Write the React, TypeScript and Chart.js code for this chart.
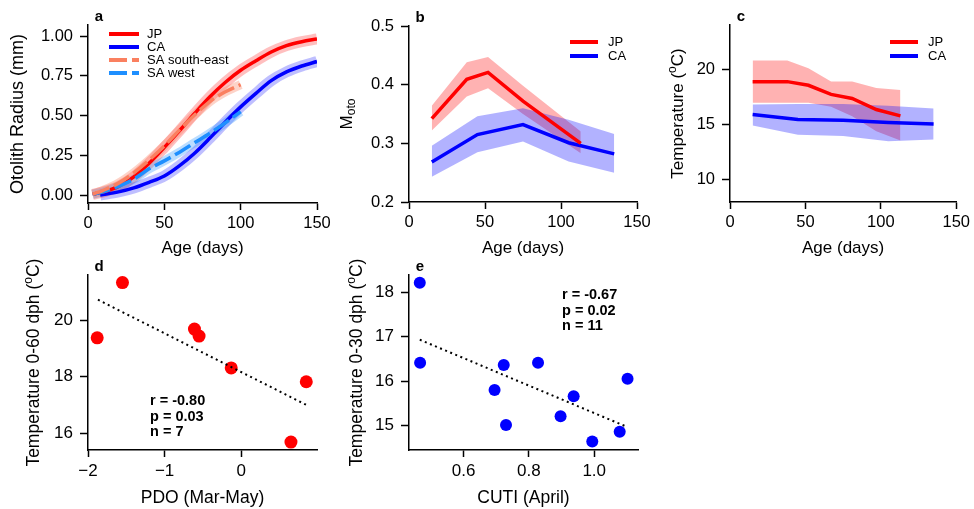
import React, { useEffect, useRef } from 'react';
import { Chart, registerables } from 'chart.js';
Chart.register(...registerables);

const FONT = '"Liberation Sans", Arial, Helvetica, sans-serif';

// ---------- Panel a: otolith radius vs age ----------
const ageJPa = [3, 10, 20, 30, 40, 50, 60, 70, 80, 90, 100, 110, 120, 130, 140, 150];
const radiusJP = [0.005, 0.02, 0.055, 0.115, 0.2, 0.3, 0.405, 0.515, 0.62, 0.71, 0.785, 0.845, 0.9, 0.94, 0.965, 0.982];
const ageCAa = [8, 20, 30, 40, 50, 60, 70, 80, 90, 100, 110, 120, 130, 140, 150];
const radiusCA = [0.0, 0.02, 0.045, 0.08, 0.12, 0.185, 0.265, 0.36, 0.46, 0.555, 0.64, 0.72, 0.775, 0.812, 0.84];
const ageSA = [3, 10, 20, 30, 40, 50, 60, 70, 80, 90, 100];
const radiusSAse = [0.005, 0.03, 0.075, 0.14, 0.22, 0.31, 0.41, 0.505, 0.59, 0.65, 0.695];
const radiusSAw = [0.005, 0.02, 0.055, 0.1, 0.165, 0.215, 0.27, 0.33, 0.39, 0.455, 0.525];
const aXTicks = [0, 50, 100, 150];
const aYTicks = [0, 0.25, 0.5, 0.75, 1.0];

// ---------- Panel b: M_oto ----------
const ageJPb = [15, 38, 52, 75, 113];
const motoJP = [0.342, 0.409, 0.421, 0.372, 0.3];
const motoJPlo = [0.322, 0.38, 0.394, 0.35, 0.283];
const motoJPhi = [0.364, 0.438, 0.447, 0.398, 0.32];
const ageCAb = [15, 45, 75, 105, 135];
const motoCA = [0.268, 0.315, 0.332, 0.301, 0.282];
const motoCAlo = [0.243, 0.285, 0.303, 0.269, 0.25];
const motoCAhi = [0.296, 0.346, 0.36, 0.34, 0.316];
const bXTicks = [0, 50, 100, 150];
const bYTicks = [0.2, 0.3, 0.4, 0.5];

// ---------- Panel c: temperature vs age ----------
const ageJPc = [15, 38, 52, 67, 81, 97, 113];
const tempJP = [18.88, 18.88, 18.55, 17.73, 17.36, 16.36, 15.79];
const tempJPlo = [16.97, 16.97, 16.97, 16.6, 15.76, 14.4, 13.55];
const tempJPhi = [20.79, 20.79, 20.1, 18.9, 18.9, 18.3, 18.12];
const ageCAc = [15, 45, 75, 105, 135];
const tempCA = [15.91, 15.45, 15.39, 15.18, 15.06];
const tempCAlo = [14.91, 14.09, 13.97, 13.5, 13.64];
const tempCAhi = [16.82, 16.85, 16.85, 16.7, 16.45];
const cXTicks = [0, 50, 100, 150];
const cYTicks = [10, 15, 20];

// ---------- Panel d: PDO ----------
const pdo = [-1.88, -1.55, -0.61, -0.55, -0.13, 0.85, 0.65];
const temp60 = [19.38, 21.34, 19.69, 19.44, 18.31, 17.82, 15.68];
const pdoFitX = [-1.87, 0.85];
const pdoFitY = [20.73, 17.0];
const dXTicks = [-2, -1, 0];
const dYTicks = [16, 18, 20];
const statsD = ['r = -0.80', 'p = 0.03', 'n = 7'];

// ---------- Panel e: CUTI ----------
const cuti = [0.466, 0.467, 0.723, 0.695, 0.73, 0.828, 0.937, 0.897, 0.994, 1.078, 1.102];
const temp30 = [18.21, 16.41, 16.36, 15.8, 15.01, 16.41, 15.66, 15.21, 14.64, 14.86, 16.05];
const cutiFitX = [0.466, 1.094];
const cutiFitY = [16.93, 14.99];
const eXTicks = [0.6, 0.8, 1.0];
const eYTicks = [15, 16, 17, 18];
const statsE = ['r = -0.67', 'p = 0.02', 'n = 11'];

const zip = (xs: number[], ys: number[]) => xs.map((x, i) => ({ x, y: ys[i] }));

type Box = { x: number; y: number; w: number; h: number };
type Area = { l: number; t: number; r: number; b: number };

const decor = {
  id: 'decor',
  afterDraw(chart: any, _a: any, o: any) {
    const { ctx, chartArea: ca } = chart;
    if (!o || !o.on) return;
    ctx.save();
    ctx.fillStyle = '#000';
    // panel letter
    ctx.font = `bold 15px ${FONT}`;
    ctx.textAlign = 'center';
    ctx.textBaseline = 'middle';
    ctx.fillText(o.letter, ca.left + 11, ca.top - 8);
    // x title
    ctx.font = `${o.titleSize}px ${FONT}`;
    ctx.fillText(o.xTitle, (ca.left + ca.right) / 2, ca.bottom + o.xTitleDy);
    // y title (rich, rotated)
    ctx.save();
    ctx.translate(ca.left - o.yTitleDx, (ca.top + ca.bottom) / 2);
    ctx.rotate(-Math.PI / 2);
    const size = o.yTitleSize || o.titleSize;
    const segs = o.yTitle as { t: string; sup?: boolean; sub?: boolean }[];
    const fontOf = (s: any) => `${s.sup || s.sub ? Math.round(size * 0.68) : size}px ${FONT}`;
    let total = 0;
    const widths = segs.map((s) => {
      ctx.font = fontOf(s);
      const w = ctx.measureText(s.t).width;
      total += w;
      return w;
    });
    let xx = -total / 2;
    ctx.textAlign = 'left';
    segs.forEach((s, i) => {
      ctx.font = fontOf(s);
      ctx.fillText(s.t, xx, s.sup ? -size * 0.32 : s.sub ? size * 0.3 : 0);
      xx += widths[i];
    });
    ctx.restore();
    // legend
    if (o.legend) {
      const L = o.legend;
      L.items.forEach((it: any, i: number) => {
        const y = ca.top + L.dy + i * L.row;
        const x0 = ca.left + L.dx;
        ctx.save();
        ctx.strokeStyle = it.color;
        ctx.lineWidth = 4;
        ctx.lineCap = 'butt';
        ctx.setLineDash(it.dash || []);
        ctx.beginPath();
        ctx.moveTo(x0, y);
        ctx.lineTo(x0 + L.len, y);
        ctx.stroke();
        ctx.restore();
        ctx.font = `${L.size}px ${FONT}`;
        ctx.textAlign = 'left';
        ctx.textBaseline = 'middle';
        ctx.fillStyle = '#000';
        ctx.fillText(it.label, x0 + L.len + L.gap, y);
      });
    }
    // stats
    if (o.stats) {
      const S = o.stats;
      ctx.font = `bold ${S.size}px ${FONT}`;
      ctx.textAlign = 'left';
      ctx.textBaseline = 'middle';
      S.lines.forEach((t: string, i: number) => {
        ctx.fillText(t, ca.left + S.dx, ca.top + S.dy + i * S.row);
      });
    }
    ctx.restore();
  },
};

function scales(box: Box, area: Area, x: any, y: any, tickSize: number) {
  const mk = (tl: number, pad: number, s: any) => ({
    type: 'linear',
    min: s.min,
    max: s.max,
    grid: { display: true, drawOnChartArea: false, drawTicks: true, tickLength: tl, tickWidth: 1.5, tickColor: '#000' },
    border: { display: true, color: '#000', width: 1.5 },
    ticks: {
      color: '#000',
      font: { family: FONT, size: tickSize },
      padding: pad,
      autoSkip: false,
      maxRotation: 0,
      callback: (v: number) => s.fmt(v),
    },
    afterBuildTicks: (sc: any) => {
      sc.ticks = s.ticks.map((v: number) => ({ value: v }));
    },
  });
  return {
    x: { ...mk(7, 4, x), afterFit: (sc: any) => { sc.height = box.y + box.h - area.b; } },
    y: { ...mk(8, 7, y), afterFit: (sc: any) => { sc.width = area.l - box.x; } },
  };
}

function baseOptions(box: Box, area: Area, sc: any, decorOpts: any) {
  return {
    responsive: false,
    animation: false,
    devicePixelRatio: 1,
    layout: { padding: { left: 0, top: area.t - box.y, right: box.x + box.w - area.r, bottom: 0 } },
    scales: sc,
    plugins: { legend: { display: false }, tooltip: { enabled: false }, decor: { on: true, ...decorOpts } },
  };
}

const fmt2 = (v: number) => v.toFixed(2);
const fmt1 = (v: number) => v.toFixed(1);
const fmt0 = (v: number) => (v < 0 ? '\u2212' + Math.abs(v) : String(v));

const boxA: Box = { x: 0, y: 0, w: 345, h: 258 };
const areaA: Area = { l: 88, t: 25, r: 317, b: 203 };
const boxB: Box = { x: 320, y: 0, w: 345, h: 258 };
const areaB: Area = { l: 409, t: 26, r: 637, b: 202 };
const boxC: Box = { x: 650, y: 0, w: 324, h: 258 };
const areaC: Area = { l: 730, t: 25, r: 959, b: 202 };
const boxD: Box = { x: 0, y: 258, w: 345, h: 251 };
const areaD: Area = { l: 88, t: 273, r: 317, b: 450 };
const boxE: Box = { x: 320, y: 258, w: 345, h: 251 };
const areaE: Area = { l: 409, t: 273, r: 638, b: 450 };

const RED = '#FF0000';
const BLUE = '#0000FF';
const SALMON = '#FA8060';
const SKY = '#1E8FFF';
const RED_BAND = 'rgba(255,0,0,0.3)';
const BLUE_BAND = 'rgba(0,0,255,0.3)';

const line = (data: any, color: string, width: number, order: number, extra: any = {}) => ({
  data,
  borderColor: color,
  backgroundColor: color,
  borderWidth: width,
  pointRadius: 0,
  fill: false,
  order,
  borderCapStyle: 'butt',
  ...extra,
});

function configA() {
  const sc = scales(boxA, areaA, { min: 0, max: 150, ticks: aXTicks, fmt: fmt0 }, { min: -0.05, max: 1.07, ticks: aYTicks, fmt: fmt2 }, 16.5);
  const smooth = { cubicInterpolationMode: 'monotone' };
  return {
    type: 'line',
    data: {
      datasets: [
        line(zip(ageJPa, radiusJP), 'rgba(255,0,0,0.25)', 11, 10, smooth),
        line(zip(ageCAa, radiusCA), 'rgba(0,0,255,0.25)', 11, 10, smooth),
        line(zip(ageSA, radiusSAse), 'rgba(250,128,96,0.35)', 9, 9, smooth),
        line(zip(ageSA, radiusSAw), 'rgba(30,143,255,0.3)', 9, 9, smooth),
        line(zip(ageJPa, radiusJP), RED, 3.5, 5, smooth),
        line(zip(ageCAa, radiusCA), BLUE, 3.5, 5, smooth),
        line(zip(ageSA, radiusSAse), SALMON, 3.5, 1, { ...smooth, borderDash: [18, 5] }),
        line(zip(ageSA, radiusSAw), SKY, 3.5, 1, { ...smooth, borderDash: [18, 5] }),
      ],
    },
    options: baseOptions(boxA, areaA, sc, {
      letter: 'a',
      titleSize: 17,
      yTitleSize: 18,
      xTitle: 'Age (days)',
      xTitleDy: 45,
      yTitle: [{ t: 'Otolith Radius (mm)' }],
      yTitleDx: 70,
      legend: {
        dx: 21, dy: 9, row: 13, len: 30, gap: 8, size: 13,
        items: [
          { label: 'JP', color: RED },
          { label: 'CA', color: BLUE },
          { label: 'SA south-east', color: SALMON, dash: [18, 5] },
          { label: 'SA west', color: SKY, dash: [18, 5] },
        ],
      },
    }),
  };
}

function bandSets(xs: number[], lo: number[], hi: number[], color: string, order: number) {
  return [
    { data: zip(xs, lo), borderWidth: 0, pointRadius: 0, fill: false, order, borderColor: 'rgba(0,0,0,0)' },
    { data: zip(xs, hi), borderWidth: 0, pointRadius: 0, fill: '-1', backgroundColor: color, order, borderColor: 'rgba(0,0,0,0)' },
  ];
}

function configB() {
  const sc = scales(boxB, areaB, { min: 0, max: 150, ticks: bXTicks, fmt: fmt0 }, { min: 0.2, max: 0.5, ticks: bYTicks, fmt: fmt1 }, 16.5);
  return {
    type: 'line',
    data: {
      datasets: [
        ...bandSets(ageJPb, motoJPlo, motoJPhi, RED_BAND, 10),
        ...bandSets(ageCAb, motoCAlo, motoCAhi, BLUE_BAND, 9),
        line(zip(ageCAb, motoCA), BLUE, 3.5, 2),
        line(zip(ageJPb, motoJP), RED, 3.5, 1),
      ],
    },
    options: baseOptions(boxB, areaB, sc, {
      letter: 'b',
      titleSize: 17,
      xTitle: 'Age (days)',
      xTitleDy: 46,
      yTitle: [{ t: 'M' }, { t: 'oto', sub: true }],
      yTitleDx: 62,
      legend: {
        dx: 161, dy: 16, row: 14, len: 28, gap: 10, size: 13,
        items: [
          { label: 'JP', color: RED },
          { label: 'CA', color: BLUE },
        ],
      },
    }),
  };
}

function configC() {
  const sc = scales(boxC, areaC, { min: 0, max: 150, ticks: cXTicks, fmt: fmt0 }, { min: 8, max: 24, ticks: cYTicks, fmt: fmt0 }, 16.5);
  return {
    type: 'line',
    data: {
      datasets: [
        ...bandSets(ageJPc, tempJPlo, tempJPhi, RED_BAND, 10),
        ...bandSets(ageCAc, tempCAlo, tempCAhi, BLUE_BAND, 9),
        line(zip(ageCAc, tempCA), BLUE, 3.5, 2),
        line(zip(ageJPc, tempJP), RED, 3.5, 1),
      ],
    },
    options: baseOptions(boxC, areaC, sc, {
      letter: 'c',
      titleSize: 17,
      xTitle: 'Age (days)',
      xTitleDy: 46,
      yTitle: [{ t: 'Temperature (' }, { t: 'o', sup: true }, { t: 'C)' }],
      yTitleDx: 52,
      legend: {
        dx: 160, dy: 17, row: 14, len: 28, gap: 10, size: 13,
        items: [
          { label: 'JP', color: RED },
          { label: 'CA', color: BLUE },
        ],
      },
    }),
  };
}

function scatterConfig(box: Box, area: Area, xs: number[], ys: number[], fx: number[], fy: number[], color: string, r: number, xsc: any, ysc: any, deco: any) {
  const sc = scales(box, area, xsc, ysc, 17);
  return {
    type: 'scatter',
    data: {
      datasets: [
        { data: zip(fx, fy), showLine: true, borderColor: '#000', borderWidth: 2, borderDash: [2, 3.5], pointRadius: 0, order: 0, fill: false },
        { data: zip(xs, ys), backgroundColor: color, borderWidth: 0, pointRadius: r, order: 1, clip: false },
      ],
    },
    options: baseOptions(box, area, sc, deco),
  };
}

function configD() {
  return scatterConfig(boxD, areaD, pdo, temp60, pdoFitX, pdoFitY, RED, 6.5,
    { min: -2, max: 0.99, ticks: dXTicks, fmt: fmt0 },
    { min: 15.4, max: 21.6, ticks: dYTicks, fmt: fmt0 },
    {
      letter: 'd',
      titleSize: 17.5,
      xTitle: 'PDO (Mar-May)',
      xTitleDy: 48,
      yTitle: [{ t: 'Temperature 0-60 dph (' }, { t: 'o', sup: true }, { t: 'C)' }],
      yTitleDx: 54,
      stats: { dx: 62, dy: 126, row: 15.5, size: 14.5, lines: statsD },
    });
}

function configE() {
  return scatterConfig(boxE, areaE, cuti, temp30, cutiFitX, cutiFitY, BLUE, 6,
    { min: 0.433, max: 1.134, ticks: eXTicks, fmt: fmt1 },
    { min: 14.45, max: 18.38, ticks: eYTicks, fmt: fmt0 },
    {
      letter: 'e',
      titleSize: 17.5,
      xTitle: 'CUTI (April)',
      xTitleDy: 48,
      yTitle: [{ t: 'Temperature 0-30 dph (' }, { t: 'o', sup: true }, { t: 'C)' }],
      yTitleDx: 52,
      stats: { dx: 153, dy: 20, row: 15.5, size: 14.5, lines: statsE },
    });
}

function Panel({ box, build }: { box: Box; build: () => any }) {
  const ref = useRef<HTMLCanvasElement>(null);
  useEffect(() => {
    const chart = new Chart(ref.current as HTMLCanvasElement, { ...build(), plugins: [decor] } as any);
    return () => chart.destroy();
  }, []);
  return (
    <canvas
      ref={ref}
      width={box.w}
      height={box.h}
      style={{ position: 'absolute', left: box.x, top: box.y, width: box.w, height: box.h }}
    />
  );
}

export default function App() {
  return (
    <div style={{ position: 'fixed', left: 0, top: 0, width: 974, height: 509, background: '#fff', overflow: 'hidden' }}>
      <Panel box={boxA} build={configA} />
      <Panel box={boxB} build={configB} />
      <Panel box={boxC} build={configC} />
      <Panel box={boxD} build={configD} />
      <Panel box={boxE} build={configE} />
    </div>
  );
}
